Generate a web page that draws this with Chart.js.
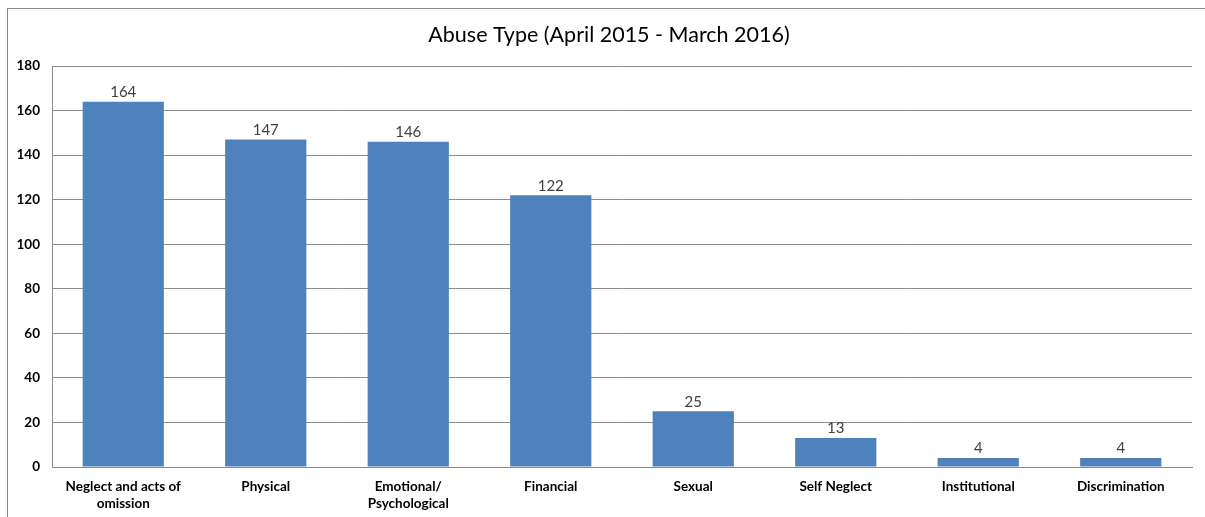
<!DOCTYPE html>
<html>
<head>
<meta charset="utf-8">
<script src="https://cdn.jsdelivr.net/npm/chart.js@4"></script>
<style>
  body { margin: 0; background: #fff; }
  #wrap { position: relative; width: 1205px; height: 517px; }
  #frame { position: absolute; left: 7px; top: 8px; right: 0; bottom: 0; border-left: 1px solid #8c8c8c; border-top: 1px solid #8c8c8c; }
  canvas { position: absolute; left: 0; top: 0; }
</style>
</head>
<body>
<div id="wrap">
  <div id="frame"></div>
  <canvas id="abuseChart" width="1205" height="517"></canvas>
</div>
<script>
const chartTitle = "Abuse Type (April 2015 - March 2016)";
const abuseTypes = [
  ["Neglect and acts of", "omission"],
  "Physical",
  ["Emotional/", "Psychological"],
  "Financial",
  "Sexual",
  "Self Neglect",
  "Institutional",
  "Discrimination"
];
const cases = [164, 147, 146, 122, 25, 13, 4, 4];
const yTicks = [0, 20, 40, 60, 80, 100, 120, 140, 160, 180];

// draws the title and the value above each bar
const valueLabels = {
  id: "valueLabels",
  afterDatasetsDraw(chart) {
    const ctx = chart.ctx;
    const meta = chart.getDatasetMeta(0);
    ctx.save();
    ctx.font = "21.5px Lato";
    ctx.fillStyle = "#000";
    ctx.textAlign = "center";
    ctx.textBaseline = "middle";
    ctx.fillText(chartTitle, 609, 35);

    ctx.font = "15px Lato";
    ctx.fillStyle = "#404040";
    ctx.textBaseline = "bottom";
    meta.data.forEach((bar, i) => {
      ctx.fillText(cases[i], bar.x, bar.y - 2);
    });
    ctx.restore();
  }
};

document.addEventListener("DOMContentLoaded", function () {
  const ctx = document.getElementById("abuseChart").getContext("2d");
  new Chart(ctx, {
    type: "bar",
    data: {
      labels: abuseTypes,
      datasets: [
        {
          label: "Abuse Type",
          data: cases,
          backgroundColor: "#4f81bd",
          barPercentage: 0.57,
          categoryPercentage: 1.0,
        },
      ],
    },
    options: {
      responsive: false,
      animation: false,
      layout: { padding: { left: 0, right: 13, top: 66, bottom: 5 } },
      plugins: {
        legend: { display: false },
        tooltip: { enabled: false },
        title: { display: false },
      },
      scales: {
        x: {
          afterFit(scale) { scale.height = 45; },
          grid: { display: false, drawTicks: false },
          border: { color: "#8c8c8c" },
          ticks: {
            color: "#000",
            padding: 11,
            maxRotation: 0,
            font: { family: "Lato", size: 13.5, weight: "bold", lineHeight: 1.26 },
          },
        },
        y: {
          min: 0,
          max: 180,
          afterFit(scale) { scale.width = 52; },
          afterBuildTicks(scale) { scale.ticks = yTicks.map((v) => ({ value: v })); },
          grid: { color: "#8c8c8c", drawTicks: false },
          border: { color: "#8c8c8c" },
          ticks: {
            color: "#000",
            padding: 12,
            font: { family: "Lato", size: 13.5, weight: "bold" },
          },
        },
      },
    },
    plugins: [valueLabels],
  });
});
</script>
</body>
</html>
